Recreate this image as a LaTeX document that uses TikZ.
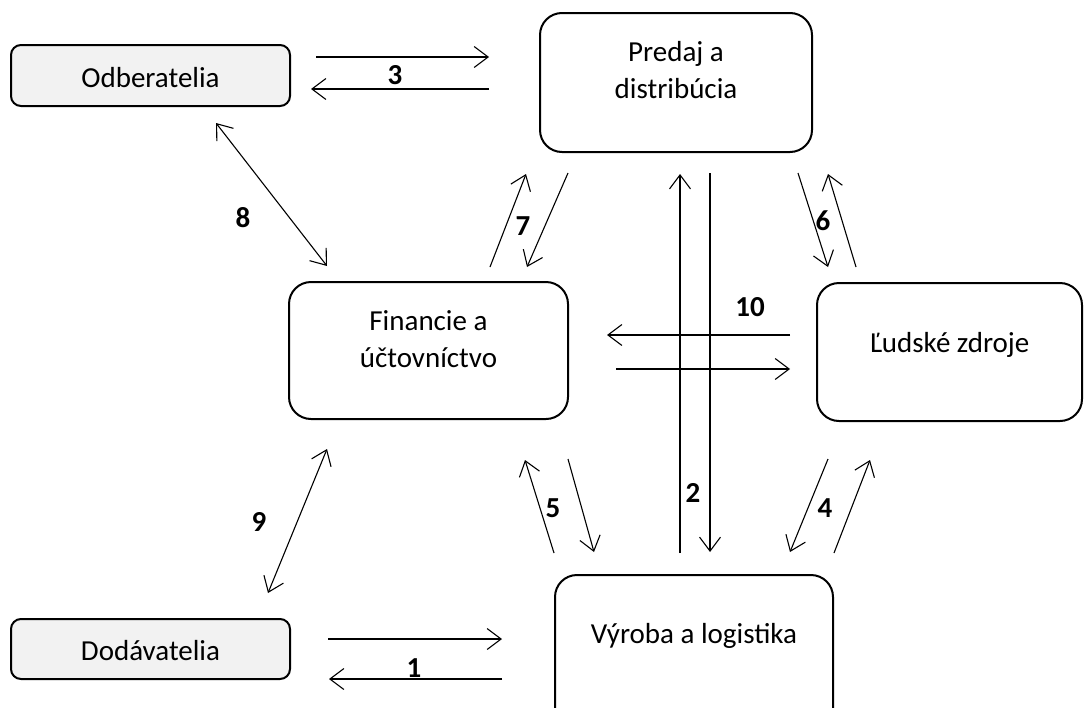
\documentclass[tikz,border=0pt]{standalone}
\usepackage{fontspec}
\setmainfont{Carlito}
\usetikzlibrary{arrows.meta}
\definecolor{boxgray}{HTML}{F2F2F2}
\begin{document}
\begin{tikzpicture}[x=1pt,y=-1pt,
  box/.style={draw, line width=2pt, rounded corners=#1, inner sep=0pt},
  box/.default=22pt,
  txt/.style={inner sep=0pt, anchor=base, font=\fontsize{29}{37}\selectfont},
  num/.style={inner sep=0pt, font=\fontsize{29}{37}\selectfont\bfseries},
  head/.style={Straight Barb[length=14pt,width=21pt,line width=1.1pt]},
  conn/.style={line width=1.1pt, -{Straight Barb[length=14pt,width=21pt,line width=1.1pt]}},
  dconn/.style={line width=1.1pt, {Straight Barb[length=14pt,width=21pt,line width=1.1pt]}-{Straight Barb[length=14pt,width=21pt,line width=1.1pt]}}
]
\useasboundingbox (0,0) rectangle (1084,707);
\clip (0,0) rectangle (1084,707);

% boxes
\node[box=10pt, fill=boxgray, minimum width=279pt, minimum height=61pt] (odb) at (150.5,75.5) {};
\node[box=10pt, fill=boxgray, minimum width=279pt, minimum height=60pt] (dod) at (150.5,649) {};
\node[box, minimum width=272pt, minimum height=139pt] (pre) at (676,82.5) {};
\node[box, minimum width=279pt, minimum height=137pt] (fin) at (428.5,350.5) {};
\node[box, minimum width=265pt, minimum height=138pt] (lud) at (949.5,352) {};
\node[box, minimum width=278pt, minimum height=170pt] (vyr) at (694,660) {};

% texts
\node[txt] (odbt) at (150.5,87) {Odberatelia};
\node[txt] (dodt) at (150.5,660) {Dodávatelia};
\node[txt] (pret1) at (676,61) {Predaj a};
\node[txt] (pret2) at (676,98) {distribúcia};
\node[txt] (fint1) at (428.5,330) {Financie a};
\node[txt] (fint2) at (428.5,367) {účtovníctvo};
\node[txt] (ludt) at (949.5,352) {Ľudské zdroje};
\node[txt] (vyrt) at (694,643) {Výroba a logistika};

% arrow end points
\coordinate (a3s) at (316,57);  \coordinate (a3e) at (489,57);
\coordinate (b3s) at (489,89);  \coordinate (b3e) at (311,89);
\coordinate (a8s) at (216,123); \coordinate (a8e) at (327,266);
\coordinate (a7s) at (490,267); \coordinate (a7e) at (526,174);
\coordinate (b7s) at (568,173); \coordinate (b7e) at (527,267);
\coordinate (a2s) at (680,553); \coordinate (a2e) at (680,174);
\coordinate (b2s) at (710,173); \coordinate (b2e) at (710,552);
\coordinate (a6s) at (798,173); \coordinate (a6e) at (828,267);
\coordinate (b6s) at (856,267); \coordinate (b6e) at (828,174);
\coordinate (a10s) at (790,335); \coordinate (a10e) at (607,335);
\coordinate (b10s) at (616,369); \coordinate (b10e) at (790,369);
\coordinate (a5s) at (554,553); \coordinate (a5e) at (525,460);
\coordinate (b5s) at (568,459); \coordinate (b5e) at (594,552);
\coordinate (a4s) at (828,459); \coordinate (a4e) at (790,552);
\coordinate (b4s) at (834,553); \coordinate (b4e) at (870,460);
\coordinate (a9s) at (327,449); \coordinate (a9e) at (268,593);
\coordinate (a1s) at (328,639); \coordinate (a1e) at (502,639);
\coordinate (b1s) at (502,679); \coordinate (b1e) at (329,679);

% connectors
\draw[conn] (a3s) -- (a3e);
\draw[conn] (b3s) -- (b3e);
\draw[dconn] (a8s) -- (a8e);
\draw[conn] (a7s) -- (a7e);
\draw[conn] (b7s) -- (b7e);
\draw[conn] (a2s) -- (a2e);
\draw[conn] (b2s) -- (b2e);
\draw[conn] (a6s) -- (a6e);
\draw[conn] (b6s) -- (b6e);
\draw[conn] (a10s) -- (a10e);
\draw[conn] (b10s) -- (b10e);
\draw[conn] (a5s) -- (a5e);
\draw[conn] (b5s) -- (b5e);
\draw[conn] (a4s) -- (a4e);
\draw[conn] (b4s) -- (b4e);
\draw[dconn] (a9s) -- (a9e);
\draw[conn] (a1s) -- (a1e);
\draw[conn] (b1s) -- (b1e);

% labels
\node[num] (l3) at (395,75) {3};
\node[num] (l8) at (243,218) {8};
\node[num] (l7) at (523,226) {7};
\node[num] (l2) at (693,493) {2};
\node[num] (l6) at (823,221) {6};
\node[num] (l10) at (750,307) {10};
\node[num] (l5) at (553,508) {5};
\node[num] (l4) at (825,508) {4};
\node[num] (l9) at (259,522) {9};
\node[num] (l1) at (414,668) {1};
\end{tikzpicture}
\end{document}
